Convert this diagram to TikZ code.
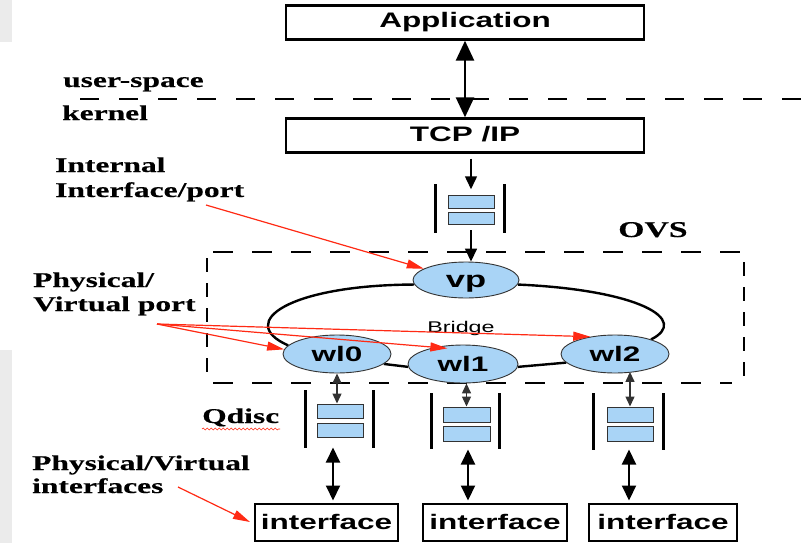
\documentclass[tikz,border=0pt]{standalone}
\usepackage{fontspec}
\setmainfont{Liberation Serif}[FakeStretch=1.5, BoldFeatures={FakeBold=0.4}]
\newfontfamily\sansw{Liberation Sans}[FakeStretch=1.5]
\usetikzlibrary{arrows.meta,shapes.geometric,decorations.pathmorphing,backgrounds}

\definecolor{portblue}{HTML}{A9D4F6}
\definecolor{callred}{HTML}{FF2A14}
\definecolor{edgegray}{HTML}{333333}
\definecolor{stripgray}{HTML}{EBEBEB}

\begin{document}
\begin{tikzpicture}[x=1pt,y=-1pt,
  layerbox/.style={draw, line width=2.4pt, minimum width=358pt, minimum height=34pt,
    inner sep=0pt, text height=15pt, text depth=4pt,
    font=\sansw\bfseries\fontsize{21}{21}\selectfont},
  ifbox/.style={draw, line width=2pt, minimum height=37pt, inner sep=0pt,
    text height=15pt, text depth=0pt,
    font=\sansw\bfseries\fontsize{21}{21}\selectfont},
  port/.style={ellipse, draw=edgegray, line width=0.9pt, fill=portblue, inner sep=0pt,
    text height=15pt, text depth=0pt,
    font=\sansw\bfseries\fontsize{21}{21}\selectfont},
  qbox/.style={draw=edgegray, line width=1pt, fill=portblue, minimum width=46pt, inner sep=0pt},
  qbar/.style={line width=3pt},
  note/.style={anchor=base west, inner sep=0pt, font=\bfseries\fontsize{21}{21}\selectfont},
  bridgeline/.style={line width=2.4pt},
  sepline/.style={line width=2.5pt, dash pattern=on 19pt off 20pt},
  ovsh/.style={line width=2.6pt, dash pattern=on 20pt off 19pt},
  ovsv/.style={line width=2.6pt, dash pattern=on 14pt off 11pt},
  bigarrow/.style={line width=2.6pt, {Triangle[length=20pt,width=18pt]}-{Triangle[length=20pt,width=18pt]}},
  feed/.style={line width=1.5pt, -{Triangle[length=13pt,width=12pt]}},
  portlink/.style={line width=1.4pt, draw=edgegray, {Triangle[length=10pt,width=9pt]}-{Triangle[length=10pt,width=9pt]}},
  wirelink/.style={line width=2pt, {Triangle[length=15pt,width=14pt]}-{Triangle[length=15pt,width=14pt]}},
  callout/.style={draw=callred, line width=1.2pt, -{Triangle[length=17pt,width=9pt,fill=callred]}},
]
\useasboundingbox (0,0) rectangle (802,543);
\begin{pgfonlayer}{background}
  \fill[white] (0,0) rectangle (802,543);
  \fill[stripgray] (0,0) rectangle (12,42);
  \fill[stripgray] (0,350) rectangle (12,543);
\end{pgfonlayer}

% user-space / kernel boundary
\draw[sepline] (80,99) -- (802,99);
\node[note] (us) at (63,87) {user-space};
\node[note] (kn) at (62,120) {kernel};

% protocol stack
\node[layerbox] (app) at (465,22.5) {Application};
\node[layerbox] (tcp) at (465,135.5) {TCP /IP};
\draw[bigarrow] (app.south) -- (tcp.north);

% queue between the stack and the internal port
\node[qbox, minimum height=12.5pt] (q0a) at (471,202) {};
\node[qbox, minimum height=12.5pt] (q0b) at (471,218.5) {};
\draw[qbar] (435,184) -- (435,233);
\draw[qbar] (504,184) -- (504,233);
\draw[feed, shorten <=5pt, shorten >=6pt] (tcp.south -| q0a.north) -- (q0a.north);

% OVS bridge
\draw[ovsh] (213,252) -- (745,252);
\draw[ovsh] (213,383) -- (732,383);
\draw[ovsv] (207,258) -- (207,380);
\draw[ovsv] (744,262) -- (744,384);
\node[anchor=base west, inner sep=0pt, font=\bfseries\fontsize{22.5}{22.5}\selectfont] (ovs) at (618,237) {OVS};

\node[port, minimum width=106pt, minimum height=36pt,
      font=\sansw\bfseries\fontsize{23}{23}\selectfont] (vp) at (466,280) {vp};
\node[port, minimum width=108pt, minimum height=38pt] (wl0) at (337,354) {wl0};
\node[port, minimum width=110pt, minimum height=38pt] (wl1) at (463,364) {wl1};
\node[port, minimum width=108pt, minimum height=38pt] (wl2) at (615,354) {wl2};
\node[anchor=base, inner sep=0pt, font=\sansw\fontsize{15.5}{15.5}\selectfont] (br) at (461,332) {Bridge};

\draw[feed, shorten <=5pt] (q0b.south) -- (q0b.south |- vp.north);

\begin{pgfonlayer}{background}
  \draw[bridgeline] (vp.185) .. controls (290,285) and (235,322) .. (wl0.170);
  \draw[bridgeline] (wl0.-12) -- (wl1.183);
  \draw[bridgeline] (wl1.-3) -- (wl2.190);
  \draw[bridgeline] (wl2.22) .. controls (690,320) and (640,290) .. (vp.-5);
\end{pgfonlayer}

% qdisc queues
\node[qbox, minimum height=14pt] (q1a) at (340,411) {};
\node[qbox, minimum height=14pt] (q1b) at (340,430) {};
\draw[qbar] (305,390) -- (305,448);
\draw[qbar] (373,390) -- (373,448);

\node[qbox, minimum height=15pt, minimum width=47pt] (q2a) at (466.5,414.5) {};
\node[qbox, minimum height=15pt, minimum width=47pt] (q2b) at (466.5,433.5) {};
\draw[qbar] (431,393) -- (431,449);
\draw[qbar] (499,393) -- (499,449);

\node[qbox, minimum height=15pt] (q3a) at (630,414.5) {};
\node[qbox, minimum height=15pt] (q3b) at (630,433.5) {};
\draw[qbar] (593,393) -- (593,450);
\draw[qbar] (663,393) -- (663,450);

\draw[portlink] ([xshift=-3pt]q1a.north |- wl0.south) -- ([xshift=-3pt]q1a.north);
\draw[portlink] (q2a.north |- wl1.south) -- (q2a.north);
\draw[portlink] ([yshift=1.5pt]q3a.north |- wl2.south) -- (q3a.north);

% physical / virtual interfaces
\node[ifbox, minimum width=143pt] (if0) at (326.5,522) {interface};
\node[ifbox, minimum width=144pt] (if1) at (495,522) {interface};
\node[ifbox, minimum width=148pt] (if2) at (663,522) {interface};

\draw[wirelink, shorten <=10pt, shorten >=2pt] ([xshift=-7pt]q1b.south) -- ([xshift=-7pt]q1b.south |- if0.north);
\draw[wirelink, shorten <=8pt, shorten >=2pt] ([xshift=1.5pt]q2b.south) -- ([xshift=1.5pt]q2b.south |- if1.north);
\draw[wirelink, shorten <=8pt, shorten >=2pt] ([xshift=-1pt]q3b.south) -- ([xshift=-1pt]q3b.south |- if2.north);

% annotations
\node[note] (int1) at (55,172) {Internal};
\node[note] (int2) at (55,197) {Interface/port};
\node[note] (pv1) at (33,287) {Physical/};
\node[note] (pv2) at (33,311) {Virtual port};
\node[note] (qd) at (202,423) {Qdisc};
\draw[callred, line width=0.6pt, decorate,
      decoration={snake, amplitude=0.9pt, segment length=4pt}] (202,429) -- (280,429);
\node[note] (pi1) at (32,470) {Physical/Virtual};
\node[note] (pi2) at (32,493) {interfaces};

\coordinate (ipTail) at (206,205);
\coordinate (pvTail) at (157,324);
\coordinate (piTail) at (178,487);
\draw[callout] (ipTail) -- (vp.165);
\draw[callout] (pvTail) -- (wl0.175);
\draw[callout] (pvTail) -- ([yshift=-3pt]wl1.130);
\draw[callout] (pvTail) -- (wl2.145);
\draw[callout] (piTail) -- ([xshift=-4pt]if0.west);
\end{tikzpicture}
\end{document}
